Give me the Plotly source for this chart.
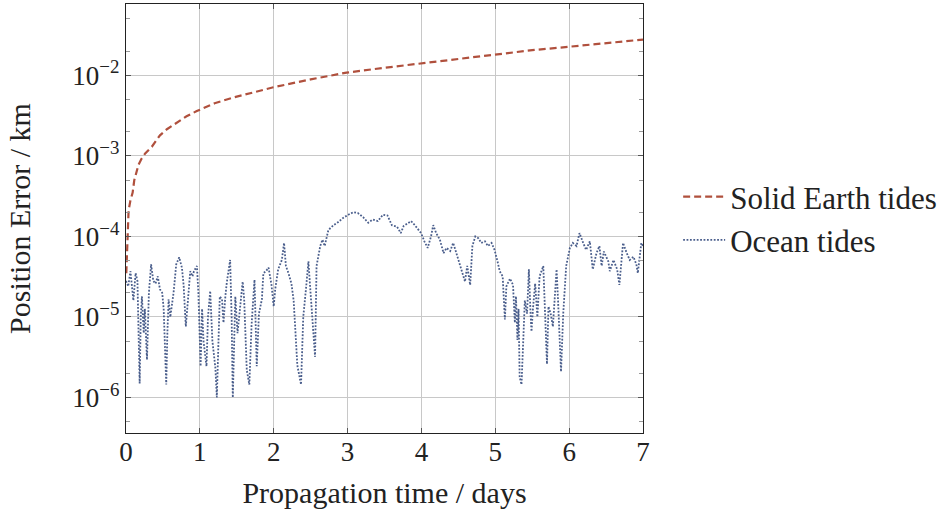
import plotly.graph_objects as go

# Solid Earth tides
earth_t = [0.004, 0.013, 0.022, 0.035, 0.06, 0.09, 0.112, 0.14, 0.17, 0.21, 0.26, 0.35, 0.46,
           0.554, 0.69, 0.82, 0.959, 1.2, 1.455, 1.7, 1.995, 2.5, 2.986, 3.5, 4.0, 4.5, 4.995,
           5.5, 5.995, 6.5, 7.0]
earth_v = [3.5e-5, 6.3e-5, 1.3e-4, 2.1e-4, 2.8e-4, 3.5e-4, 5.0e-4, 6.3e-4, 7.8e-4, 9.2e-4,
           1.07e-3, 1.3e-3, 1.8e-3, 2.14e-3, 2.6e-3, 3.1e-3, 3.6e-3, 4.5e-3, 5.3e-3, 6.1e-3,
           7.1e-3, 8.9e-3, 1.08e-2, 1.24e-2, 1.41e-2, 1.62e-2, 1.84e-2, 2.05e-2, 2.26e-2,
           2.5e-2, 2.78e-2]

# Ocean tides
ocean_t = [0.00, 0.03, 0.06, 0.08, 0.10, 0.13, 0.155, 0.185, 0.20, 0.216, 0.24, 0.255, 0.284,
           0.31, 0.34, 0.37, 0.40, 0.43, 0.46, 0.49, 0.51, 0.525, 0.545, 0.56, 0.577, 0.60,
           0.62, 0.644, 0.68, 0.72, 0.757, 0.78, 0.81, 0.84, 0.87, 0.90, 0.92, 0.96, 0.98,
           1.01, 1.03, 1.05, 1.09, 1.11, 1.14, 1.17, 1.21, 1.23, 1.25, 1.27, 1.30, 1.32,
           1.345, 1.365, 1.41, 1.43, 1.446, 1.465, 1.48, 1.51, 1.545, 1.58, 1.60, 1.635,
           1.67, 1.70, 1.74, 1.77, 1.80, 1.84, 1.86, 1.895, 1.93, 1.97, 2.00, 2.02, 2.06,
           2.11, 2.14, 2.165, 2.20, 2.24, 2.27, 2.30, 2.32, 2.37, 2.40, 2.44, 2.47, 2.49,
           2.53, 2.56, 2.58, 2.63, 2.66, 2.69, 2.74, 2.81, 2.87, 2.94, 3.01, 3.08, 3.14,
           3.21, 3.28, 3.34, 3.41, 3.48, 3.54, 3.60, 3.67, 3.72, 3.76, 3.86, 3.91, 3.995,
           4.04, 4.085, 4.13, 4.16, 4.20, 4.25, 4.30, 4.34, 4.39, 4.43, 4.46, 4.50, 4.54,
           4.59, 4.62, 4.66, 4.69, 4.73, 4.77, 4.81, 4.86, 4.90, 4.95, 4.99, 5.03, 5.06,
           5.10, 5.13, 5.15, 5.20, 5.24, 5.265, 5.28, 5.30, 5.315, 5.33, 5.355, 5.38, 5.40,
           5.43, 5.455, 5.475, 5.49, 5.51, 5.54, 5.57, 5.60, 5.65, 5.67, 5.70, 5.72, 5.75,
           5.78, 5.83, 5.85, 5.89, 5.92, 5.94, 5.96, 6.01, 6.05, 6.10, 6.14, 6.19, 6.23,
           6.28, 6.32, 6.37, 6.41, 6.44, 6.47, 6.53, 6.55, 6.60, 6.65, 6.68, 6.73, 6.78,
           6.82, 6.87, 6.91, 6.93, 6.977, 7.0]
ocean_v = [2.8e-5, 2.4e-5, 3.7e-5, 2.5e-5, 1.6e-5, 3.5e-5, 2.8e-5, 1.5e-6, 1.0e-5, 1.8e-5,
           6.3e-6, 1.26e-5, 2.95e-6, 2.0e-5, 4.5e-5, 2.8e-5, 2.6e-5, 3.2e-5, 2.2e-5, 2.0e-5,
           1.26e-5, 5.0e-6, 1.45e-6, 6.3e-6, 1.66e-5, 1.0e-5, 1.4e-5, 2.0e-5, 4.5e-5, 5.5e-5,
           4.1e-5, 2.5e-5, 7.6e-6, 1.8e-5, 3.7e-5, 3.2e-5, 3.7e-5, 4.3e-5, 2.0e-5, 2.45e-6,
           1.26e-5, 5.0e-6, 2.45e-6, 1.0e-5, 2.1e-5, 5.0e-6, 2.35e-6, 1.0e-6, 6.3e-6, 1.8e-5,
           1.66e-5, 8.5e-6, 1.8e-5, 2.7e-5, 5.1e-5, 1.0e-5, 1.0e-6, 6.3e-6, 1.8e-5, 6.3e-6,
           1.26e-5, 2.75e-5, 1.66e-5, 2.2e-6, 1.45e-6, 7.9e-6, 2.9e-5, 2.45e-6, 1.1e-5,
           1.66e-5, 3.5e-5, 3.7e-5, 4.1e-5, 2.5e-5, 1.35e-5, 2.2e-5, 3.9e-5, 5.1e-5, 8.3e-5,
           4.3e-5, 3.5e-5, 2.6e-5, 1.6e-5, 4.8e-6, 2.5e-6, 1.45e-6, 1.0e-5, 2.4e-5, 4.9e-5,
           2.6e-5, 6.8e-6, 3.2e-6, 4.3e-5, 7.6e-5, 9.1e-5, 7.6e-5, 1.2e-4, 1.38e-4, 1.5e-4,
           1.7e-4, 1.86e-4, 2.0e-4, 1.95e-4, 1.74e-4, 1.48e-4, 1.62e-4, 1.55e-4, 1.86e-4,
           1.82e-4, 1.38e-4, 1.32e-4, 1.1e-4, 1.35e-4, 1.55e-4, 1.38e-4, 1.1e-4, 8.7e-5,
           7.2e-5, 1.0e-4, 1.38e-4, 1.1e-4, 9.1e-5, 6.2e-5, 7.2e-5, 6.6e-5, 8.3e-5, 6.8e-5,
           5.1e-5, 3.9e-5, 2.75e-5, 4.3e-5, 2.5e-5, 7.6e-5, 1.0e-4, 9.5e-5, 8.3e-5, 8.7e-5,
           7.6e-5, 8.3e-5, 6.8e-5, 4.9e-5, 3.7e-5, 3.2e-5, 9.3e-6, 2.4e-5, 3.0e-5, 2.5e-5,
           8.5e-6, 1.8e-5, 5.2e-6, 1.26e-5, 1.8e-6, 1.45e-6, 5.2e-6, 1.6e-5, 1.1e-5, 3.9e-5,
           1.26e-5, 6.6e-6, 1.26e-5, 2.6e-5, 1.0e-5, 3.2e-5, 4.3e-5, 1.26e-5, 2.6e-6, 1.35e-5,
           1.1e-5, 7.6e-6, 3.9e-5, 1.6e-5, 2.1e-6, 1.1e-5, 2.0e-5, 4.3e-5, 7.2e-5, 8.3e-5,
           7.6e-5, 1.1e-4, 8.3e-5, 6.8e-5, 8.7e-5, 3.9e-5, 6.2e-5, 7.6e-5, 4.3e-5, 6.5e-5,
           4.9e-5, 3.7e-5, 5.1e-5, 3.9e-5, 2.5e-5, 8.3e-5, 6.2e-5, 5.1e-5, 5.6e-5, 4.5e-5,
           3.5e-5, 8.3e-5, 7.6e-5]

x_ticks = [0, 1, 2, 3, 4, 5, 6, 7]
y_tickvals = [1e-6, 1e-5, 1e-4, 1e-3, 1e-2]
y_exponents = ["−6", "−5", "−4", "−3", "−2"]
y_ticktext = ["10<sup style='font-size:23px'>%s</sup>" % e for e in y_exponents]

RED = "#b0503d"
BLUE = "#4a5e8c"
FONT = "Liberation Serif"

fig = go.Figure()
fig.add_trace(go.Scatter(x=earth_t, y=earth_v, mode="lines", name="Solid Earth tides",
                         line=dict(color=RED, width=2.2, dash="7px,4px")))
fig.add_trace(go.Scatter(x=ocean_t, y=ocean_v, mode="lines", name="Ocean tides",
                         line=dict(color=BLUE, width=1.8, dash="1.8px,1.6px")))

fig.update_layout(
    width=942, height=521, autosize=False,
    margin=dict(l=126, r=299, t=4, b=88, autoexpand=False),
    paper_bgcolor="white", plot_bgcolor="white",
    font=dict(family=FONT, size=28, color="#222222"),
    legend=dict(x=1.068, y=0.5, xanchor="left", yanchor="middle", itemwidth=42,
                font=dict(family=FONT, size=31, color="#222222"),
                bgcolor="rgba(0,0,0,0)", tracegroupgap=0),
    xaxis=dict(range=[0, 7], tickvals=x_ticks, showgrid=True, gridcolor="#c8c8c8",
               gridwidth=1, zeroline=False, showline=True, linecolor="#222222",
               linewidth=1.3, mirror="all", ticks="inside", ticklen=5,
               tickcolor="#555555", ticklabelstandoff=-6,
               title=dict(text="Propagation time / days", standoff=16,
                          font=dict(family=FONT, size=30)),
               tickfont=dict(family=FONT, size=27)),
    yaxis=dict(type="log", range=[-6.44, -1.115], tickvals=y_tickvals,
               ticktext=y_ticktext, showgrid=True, gridcolor="#c8c8c8", gridwidth=1,
               zeroline=False, showline=True, linecolor="#222222", linewidth=1.3,
               mirror="all", ticks="inside", ticklen=5, tickcolor="#555555",
               minor=dict(ticks="inside", ticklen=4, tickcolor="#999999", showgrid=False),
               title=dict(text="Position Error / km", standoff=32,
                          font=dict(family=FONT, size=30)),
               tickfont=dict(family=FONT, size=27)),
)

fig.write_html("out.html", config={"displayModeBar": False},
               post_script="document.body.style.margin='0px';")
